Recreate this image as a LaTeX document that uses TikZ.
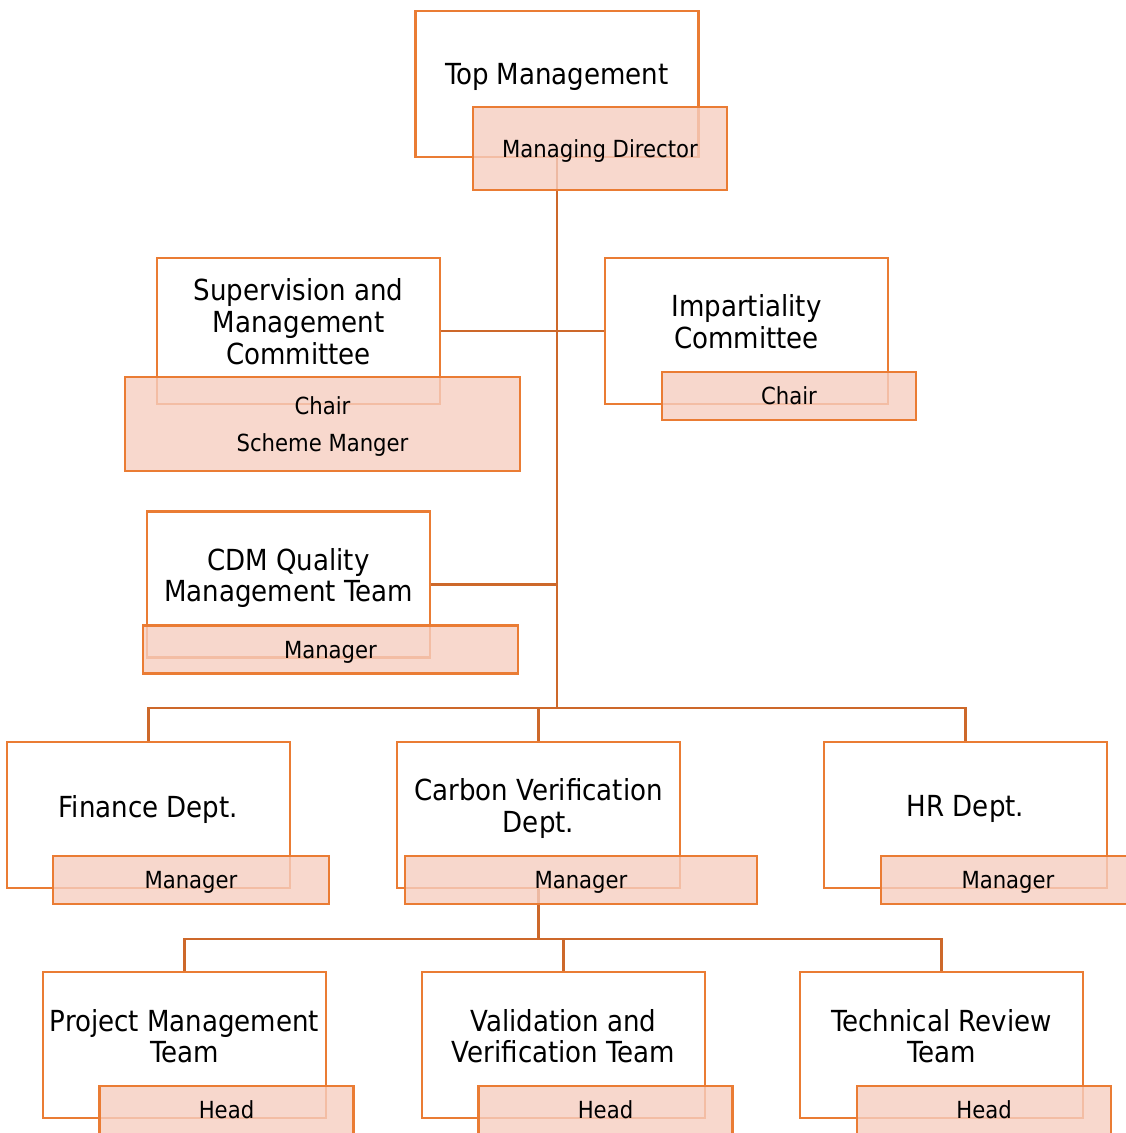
\documentclass[tikz,border=0pt]{standalone}
\usepackage{fontspec}
\setmainfont{DejaVu Sans Condensed}
\usetikzlibrary{positioning,backgrounds}

\definecolor{boxline}{RGB}{234,124,52}
\definecolor{linkline}{RGB}{205,104,42}
\definecolor{rolefill}{RGB}{246,206,192}

\begin{document}
\begin{tikzpicture}[x=0.02cm, y=-0.02cm]
    \tikzset{
      unitbox/.style={rectangle,draw=boxline,line width=1.6pt,fill=white,minimum width=5.66cm,minimum height=2.92cm,inner sep=0pt},
      unittext/.style={align=center,inner sep=0pt,text depth=0pt,font=\fontsize{16.5}{18.1}\selectfont},
      rolebox/.style={rectangle,draw=boxline,line width=1.6pt,fill=rolefill,fill opacity=0.8,text opacity=1,inner sep=0pt,text depth=0pt,
        minimum width=5.08cm,minimum height=0.96cm,align=center,font=\fontsize{13.4}{21}\selectfont},
      link/.style={draw=linkline,line width=1.4pt}
    }
    \useasboundingbox (0,0) rectangle (1126,1133);
    \clip (0,0) rectangle (1126,1133);

    % units
    \node[unitbox](top) at (557,84){};
    \node[unitbox](sup) at (298.5,331){};
    \node[unitbox](imp) at (746.5,331){};
    \node[unitbox](cdm) at (288.5,584.5){};
    \node[unitbox](fin) at (148.5,815){};
    \node[unitbox](cvd) at (538.5,815){};
    \node[unitbox](hr) at (965.5,815){};
    \node[unitbox](pmt) at (184.5,1045){};
    \node[unitbox](vvt) at (563.5,1045){};
    \node[unitbox](trt) at (941.5,1045){};

    \node[unittext](toptxt) at ([yshift=10*0.02cm]top.center){Top Management};
    \node[unittext](suptxt) at ([yshift=9.5*0.02cm]sup.center){Supervision and\\Management\\Committee};
    \node[unittext](imptxt) at ([yshift=9.5*0.02cm]imp.center){Impartiality\\Committee};
    \node[unittext](cdmtxt) at ([yshift=9.5*0.02cm]cdm.center){CDM Quality\\Management Team};
    \node[unittext](fintxt) at ([yshift=9*0.02cm]fin.center){Finance Dept.};
    \node[unittext](cvdtxt) at ([yshift=9.5*0.02cm]cvd.center){Carbon Verification\\Dept.};
    \node[unittext](hrtxt) at ([yshift=9*0.02cm]hr.center){HR Dept.};
    \node[unittext](pmttxt) at ([yshift=9*0.02cm]pmt.center){Project Management\\Team};
    \node[unittext](vvttxt) at ([yshift=9*0.02cm]vvt.center){Validation and\\Verification Team};
    \node[unittext](trttxt) at ([yshift=9*0.02cm]trt.center){Technical Review\\Team};

    % roles
    \node[rolebox,minimum height=1.66cm](md) at (600,148.5){Managing Director};
    \node[rolebox,minimum width=7.9cm,minimum height=1.88cm](supchair) at (322.5,424){Chair\\Scheme Manger};
    \node[rolebox](impchair) at (789,396){Chair};
    \node[rolebox,minimum width=7.5cm](cdmmgr) at (330.5,649.5){Manager};
    \node[rolebox,minimum width=5.52cm](finmgr) at (191,880){Manager};
    \node[rolebox,minimum width=7.04cm](cvdmgr) at (581,880){Manager};
    \node[rolebox](hrmgr) at (1008,880){Manager};
    \node[rolebox](pmthead) at (226.5,1110){Head};
    \node[rolebox](vvthead) at (605.5,1110){Head};
    \node[rolebox](trthead) at (984,1110){Head};

    \coordinate (bus) at (557,708);
    \coordinate (teambus) at (538.5,939);

    \begin{scope}[on background layer]
      \draw[link](top.south) -- (bus);
      \draw[link](sup.east) -- (imp.west);
      \draw[link](cdm.east) -- (cdm.east -| bus);
      \draw[link](fin.north) |- (bus) -| (hr.north);
      \draw[link](cvd.north) -- (cvd.north |- bus);
      \draw[link](cvd.south) -- (teambus);
      \draw[link](pmt.north) |- (teambus) -| (trt.north);
      \draw[link](vvt.north) -- (vvt.north |- teambus);
    \end{scope}
\end{tikzpicture}
\end{document}
